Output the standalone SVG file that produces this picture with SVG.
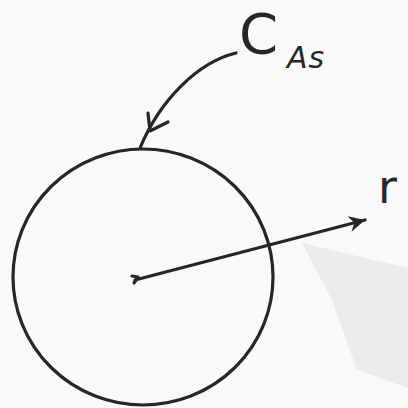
<svg xmlns="http://www.w3.org/2000/svg" width="408" height="408" viewBox="0 0 408 408">
<style>
.ln{fill:none;stroke:#262626;stroke-width:3.2;stroke-linecap:round;stroke-linejoin:round}
.lbl{font-family:"DejaVu Sans","Liberation Sans",sans-serif;fill:#262626}
</style>
<defs>
<marker id="ah" viewBox="0 0 20 20" refX="18" refY="10" markerWidth="20" markerHeight="20" markerUnits="userSpaceOnUse" orient="auto">
<path d="M2,2 L18,10 L2,18 L7,10 Z" fill="#262626"/>
</marker>
</defs>
<rect width="408" height="408" fill="#f9f9f9"/>
<path d="M302,243 L408,268 L408,388 L357,370 L332,300 Z" fill="#ebebeb"/>
<g id="sphere">
<ellipse cx="143" cy="277" rx="130" ry="128" class="ln"/>
</g>
<g id="label-CAs">
<text class="lbl" x="239" y="53" font-size="56">C</text>
<text class="lbl" x="287" y="68" font-size="30" font-style="italic" letter-spacing="1">As</text>
</g>
<g id="label-r">
<text class="lbl" x="378" y="203" font-size="46">r</text>
</g>
<g id="connectors">
<path class="ln" d="M236,53 C198,62 160,100 140,148"/>
<path class="ln" d="M148,113 L150,131 L168,122"/>
<path class="ln" d="M135,280 L365,220" marker-end="url(#ah)"/>
<path class="ln" d="M132,276 L138,277 L134,283"/>
</g>
</svg>
